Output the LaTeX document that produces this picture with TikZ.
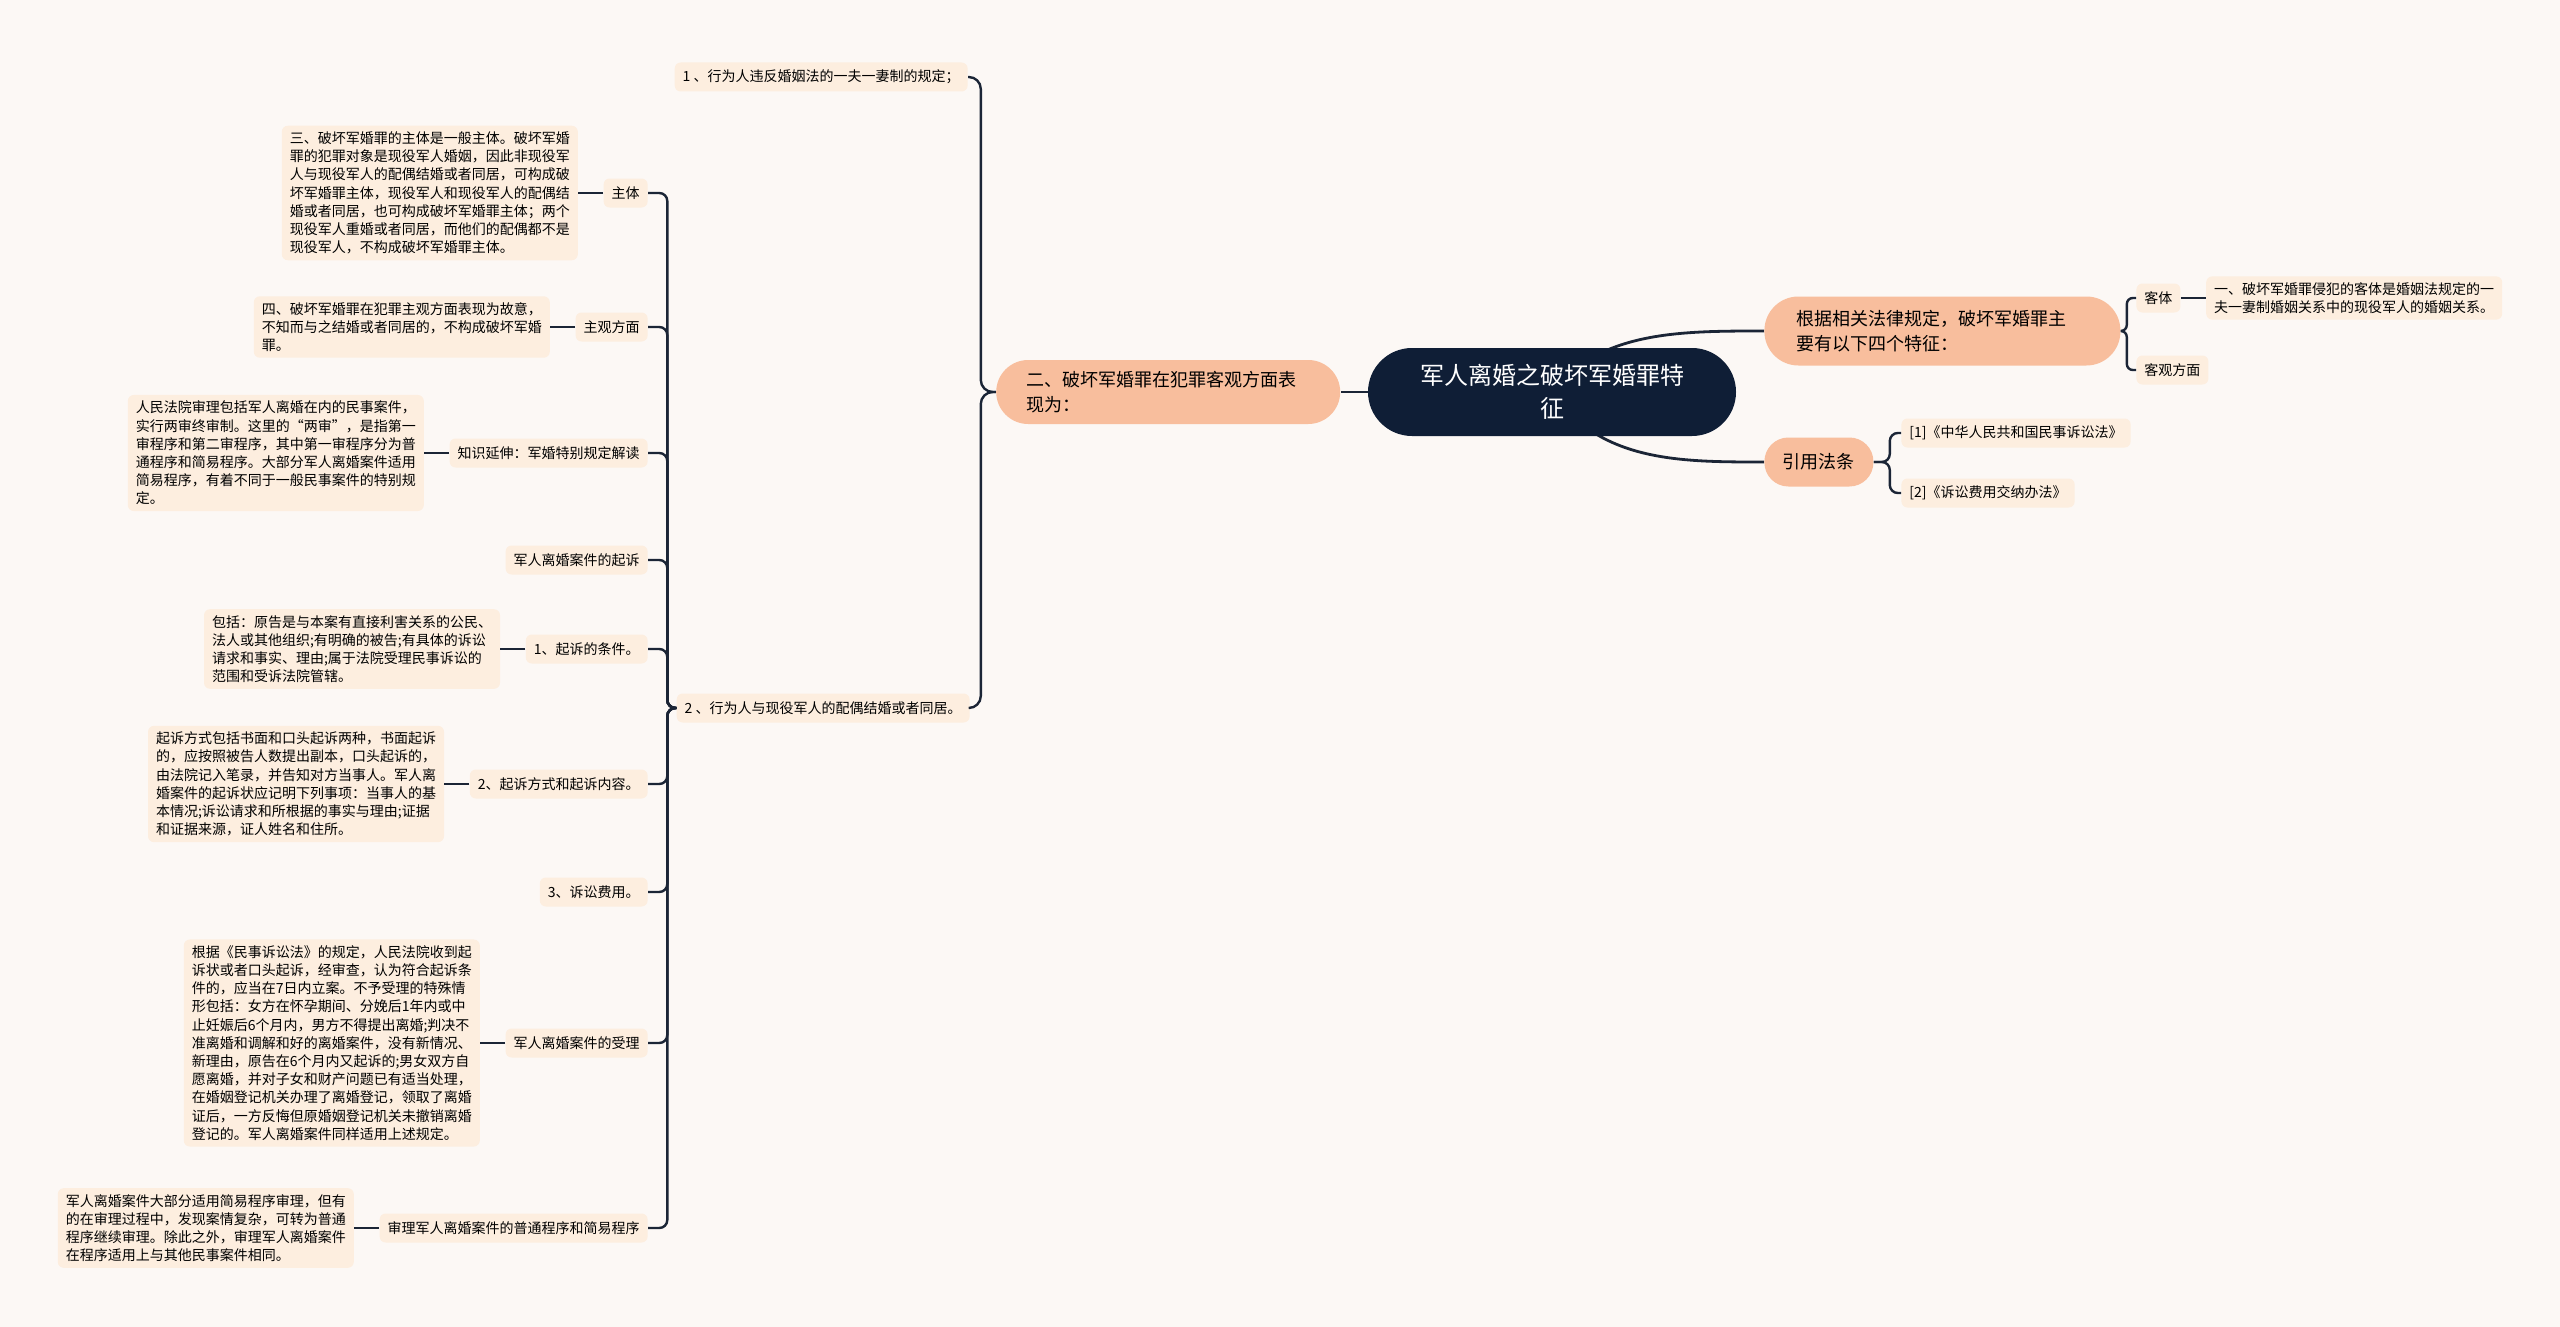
\documentclass[tikz,border=0pt]{standalone}
\usepackage{fontspec}
\setmainfont{Noto Sans CJK SC}
\usepackage{tikz}
\usetikzlibrary{positioning,backgrounds}

\definecolor{bgc}{HTML}{FCF8F5}
\definecolor{rootc}{HTML}{0F1E36}
\definecolor{branchc}{HTML}{F8BE9D}
\definecolor{leafc}{HTML}{FDEEDF}
\definecolor{linec}{HTML}{1B2536}

\begin{document}
\begin{tikzpicture}[
  x=0.5pt,y=-0.5pt,
  node distance=12.5pt,
  root/.style={fill=rootc,text=white,rounded corners=22pt,align=center,text width=134pt,minimum height=44pt,inner xsep=25pt,font=\fontsize{12}{16.5}\selectfont},
  branch/.style={fill=branchc,rounded corners=16pt,align=left,font=\fontsize{9}{12.3}\selectfont},
  topic/.style={fill=leafc,rounded corners=3pt,minimum height=14.5pt,inner xsep=4pt,font=\fontsize{7}{9}\selectfont},
  leaf/.style={fill=leafc,rounded corners=3pt,align=left,inner xsep=4pt,inner ysep=3pt,font=\fontsize{7}{9.1}\selectfont},
  link/.style={draw=linec,line width=1.2pt,rounded corners=4pt},
]
  \begin{scope}[on background layer]
    \fill[bgc] (0,0) rectangle (2560,1327);
  \end{scope}

  % Root and branches
  \node[root] (root) at (1552,392) {军人离婚之破坏军婚罪特\\征};
  \node[branch,left=13.5pt of root,text width=142pt,inner xsep=15pt,minimum height=32pt] (er) {二、破坏军婚罪在犯罪客观方面表\\现为：};
  \node[branch,anchor=west,text width=146pt,inner xsep=16pt,minimum height=34.5pt,rounded corners=17pt] (gj) at (1764,331) {根据相关法律规定，破坏军婚罪主\\要有以下四个特征：};
  \node[branch,anchor=west,inner xsep=9.25pt,minimum height=24.5pt,rounded corners=12pt] (yy) at (1764,462) {引用法条};

  % Right side
  \node[topic,anchor=west] (kt) at (2136,298) {客体};
  \node[topic,anchor=west] (kg) at (2136,370) {客观方面};
  \node[leaf,right=of kt] (ktx) {一、破坏军婚罪侵犯的客体是婚姻法规定的一\\夫一妻制婚姻关系中的现役军人的婚姻关系。};
  \node[topic,anchor=west] (f1) at (1901,433) {[1]《中华人民共和国民事诉讼法》};
  \node[topic,anchor=west] (f2) at (1901,493) {[2]《诉讼费用交纳办法》};

  % Objective side
  \node[topic,anchor=east] (n1) at (968,77) {1 、行为人违反婚姻法的一夫一妻制的规定；};
  \node[topic,anchor=east] (n2) at (970,708) {2 、行为人与现役军人的配偶结婚或者同居。};

  % Under item 2
  \node[topic,anchor=east] (zt) at (648,193) {主体};
  \node[topic,anchor=east] (zg) at (648,327) {主观方面};
  \node[topic,anchor=east] (zs) at (648,453) {知识延伸：军婚特别规定解读};
  \node[topic,anchor=east] (qs) at (648,560) {军人离婚案件的起诉};
  \node[topic,anchor=east] (tj) at (648,649) {1、起诉的条件。};
  \node[topic,anchor=east] (fs) at (648,784) {2、起诉方式和起诉内容。};
  \node[topic,anchor=east] (fy) at (648,892) {3、诉讼费用。};
  \node[topic,anchor=east] (sl) at (648,1043) {军人离婚案件的受理};
  \node[topic,anchor=east] (sp) at (648,1228) {审理军人离婚案件的普通程序和简易程序};

  \node[leaf,left=of zt] (ztx) {三、破坏军婚罪的主体是一般主体。破坏军婚\\罪的犯罪对象是现役军人婚姻，因此非现役军\\人与现役军人的配偶结婚或者同居，可构成破\\坏军婚罪主体，现役军人和现役军人的配偶结\\婚或者同居，也可构成破坏军婚罪主体；两个\\现役军人重婚或者同居，而他们的配偶都不是\\现役军人，不构成破坏军婚罪主体。};
  \node[leaf,left=of zg] (zgx) {四、破坏军婚罪在犯罪主观方面表现为故意，\\不知而与之结婚或者同居的，不构成破坏军婚\\罪。};
  \node[leaf,left=of zs] (zsx) {人民法院审理包括军人离婚在内的民事案件，\\实行两审终审制。这里的“两审”，是指第一\\审程序和第二审程序，其中第一审程序分为普\\通程序和简易程序。大部分军人离婚案件适用\\简易程序，有着不同于一般民事案件的特别规\\定。};
  \node[leaf,left=of tj] (tjx) {包括：原告是与本案有直接利害关系的公民、\\法人或其他组织;有明确的被告;有具体的诉讼\\请求和事实、理由;属于法院受理民事诉讼的\\范围和受诉法院管辖。};
  \node[leaf,left=of fs] (fsx) {起诉方式包括书面和口头起诉两种，书面起诉\\的，应按照被告人数提出副本，口头起诉的，\\由法院记入笔录，并告知对方当事人。军人离\\婚案件的起诉状应记明下列事项：当事人的基\\本情况;诉讼请求和所根据的事实与理由;证据\\和证据来源，证人姓名和住所。};
  \node[leaf,left=of sl] (slx) {根据《民事诉讼法》的规定，人民法院收到起\\诉状或者口头起诉，经审查，认为符合起诉条\\件的，应当在7日内立案。不予受理的特殊情\\形包括：女方在怀孕期间、分娩后1年内或中\\止妊娠后6个月内，男方不得提出离婚;判决不\\准离婚和调解和好的离婚案件，没有新情况、\\新理由，原告在6个月内又起诉的;男女双方自\\愿离婚，并对子女和财产问题已有适当处理，\\在婚姻登记机关办理了离婚登记，领取了离婚\\证后，一方反悔但原婚姻登记机关未撤销离婚\\登记的。军人离婚案件同样适用上述规定。};
  \node[leaf,left=of sp] (spx) {军人离婚案件大部分适用简易程序审理，但有\\的在审理过程中，发现案情复杂，可转为普通\\程序继续审理。除此之外，审理军人离婚案件\\在程序适用上与其他民事案件相同。};

  % Connectors
  \begin{scope}[on background layer]
    \draw[link,line width=1.4pt] (root.west) -- (er.east);
    \draw[link,line width=1.4pt] (root.center) .. controls +(48,-61) and +(-84,0) .. (gj.west);
    \draw[link,line width=1.4pt] (root.center) .. controls +(48,70) and +(-84,0) .. (yy.west);
  \end{scope}

  \draw[link,rounded corners=3pt] (gj.east) -- ++(3pt,0) |- (kt.west);
  \draw[link,rounded corners=3pt] (gj.east) -- ++(3pt,0) |- (kg.west);
  \draw[link] (kt.east) -- (ktx.west);
  \draw[link] (yy.east) -- ++(8pt,0) |- (f1.west);
  \draw[link] (yy.east) -- ++(8pt,0) |- (f2.west);

  \draw[link,rounded corners=6pt] (er.west) -- ++(-7.5pt,0) |- (n1.east);
  \draw[link,rounded corners=6pt] (er.west) -- ++(-7.5pt,0) |- (n2.east);

  \foreach \k in {zt,zg,zs,qs,tj,fs,fy,sl,sp}
    \draw[link] (n2.west) -- ++(-4.5pt,0) |- (\k.east);

  \foreach \k in {zt,zg,zs,tj,fs,sl,sp}
    \draw[link] (\k.west) -- (\k x.east);
\end{tikzpicture}
\end{document}
